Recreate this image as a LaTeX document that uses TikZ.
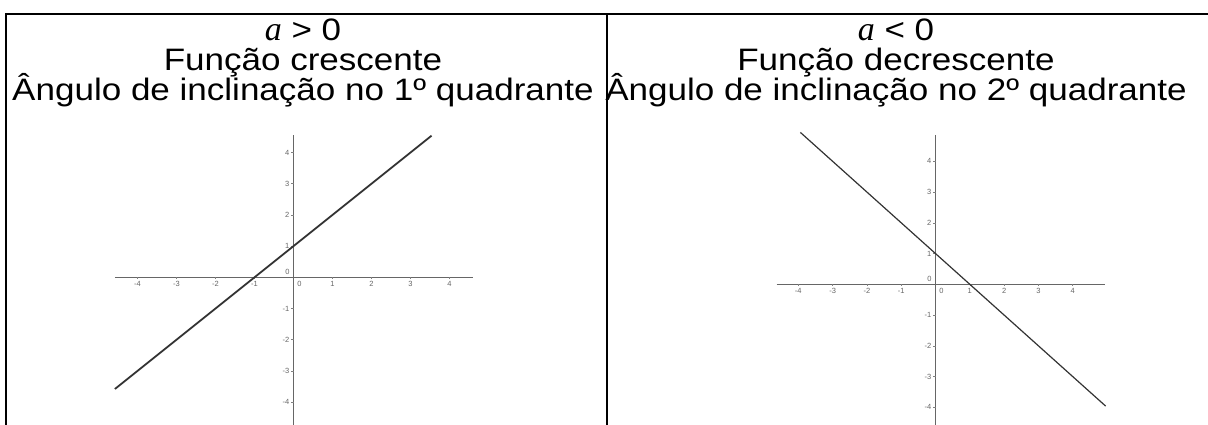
\documentclass[tikz,border=0pt]{standalone}
\usepackage{fontspec}
\setmainfont{Liberation Sans}
\newfontfamily\headfont[FakeStretch=1.13]{Liberation Sans}
\newfontfamily\mathletter{Liberation Serif}
\tikzset{
  headtxt/.style={anchor=base, inner sep=0pt, font=\headfont\fontsize{31}{33}\selectfont},
  tabline/.style={line width=2pt, line cap=rect},
  axisline/.style={draw=black!60, line width=0.9pt},
  tickmark/.style={draw=black!50, line width=0.6pt},
  ticklbl/.style={inner sep=0pt, text=black!60, font=\fontsize{7.5}{8}\selectfont},
  graphline/.style={draw=black!80, line width=1.8pt}
}
\newcommand{\avar}{{\mathletter\itshape\fontsize{34}{34}\selectfont a}}
\begin{document}
\begin{tikzpicture}[x=1pt, y=-1pt]
  \useasboundingbox (0,0) rectangle (1208,424);
  % table lines
  \draw[tabline] (6,424) -- (6,14) -- (1208,14);
  \draw[tabline] (607,14) -- (607,424);
  % left header
  \node[headtxt] (lhead1) at (303,40) {\avar{} > 0};
  \node[headtxt] (lhead2) at (303,70) {Função crescente};
  \node[headtxt] (lhead3) at (303,100) {Ângulo de inclinação no 1º quadrante};
  % right header
  \node[headtxt] (rhead1) at (896,40) {\avar{} < 0};
  \node[headtxt] (rhead2) at (896,70) {Função decrescente};
  \node[headtxt] (rhead3) at (896,100) {Ângulo de inclinação no 2º quadrante};
  % origins of the two graphs
  \coordinate (lorig) at (293.5,277.3);
  \coordinate (rorig) at (935.5,284.3);
  % left graph, a > 0
  \begin{scope}[shift={(lorig)}, x=39pt, y=31.2pt]
    \draw[axisline] (-4.58,0) -- (4.6,0);
    \draw[axisline] (0,4.56) -- (0,-4.8);
    \foreach \i in {-4,-3,-2,-1,1,2,3,4} {
      \draw[tickmark] (\i,0) -- ++(0,-2pt);
      \node[ticklbl] at (\i,0) [yshift=-7pt] {\i};
      \draw[tickmark] (0,\i) -- ++(-2.5pt,0);
      \node[ticklbl, anchor=east] at (0,\i) [xshift=-4pt] {\i};
    }
    \node[ticklbl] at (0,0) [xshift=-6pt, yshift=5pt] {0};
    \node[ticklbl] at (0,0) [xshift=6pt, yshift=-7pt] {0};
    \draw[graphline] (-4.58,-3.58) -- (3.54,4.54);
  \end{scope}
  % right graph, a < 0
  \begin{scope}[shift={(rorig)}, x=34.3pt, y=30.75pt]
    \draw[axisline] (-4.63,0) -- (4.94,0);
    \draw[axisline] (0,4.86) -- (0,-4.8);
    \foreach \i in {-4,-3,-2,-1,1,2,3,4} {
      \draw[tickmark] (\i,0) -- ++(0,-2pt);
      \node[ticklbl] at (\i,0) [yshift=-7pt] {\i};
      \draw[tickmark] (0,\i) -- ++(-2.5pt,0);
      \node[ticklbl, anchor=east] at (0,\i) [xshift=-4pt] {\i};
    }
    \node[ticklbl] at (0,0) [xshift=-6pt, yshift=5pt] {0};
    \node[ticklbl] at (0,0) [xshift=6pt, yshift=-7pt] {0};
    \draw[graphline, line width=1.2pt] (-3.94,4.94) -- (4.96,-3.96);
  \end{scope}
\end{tikzpicture}
\end{document}
